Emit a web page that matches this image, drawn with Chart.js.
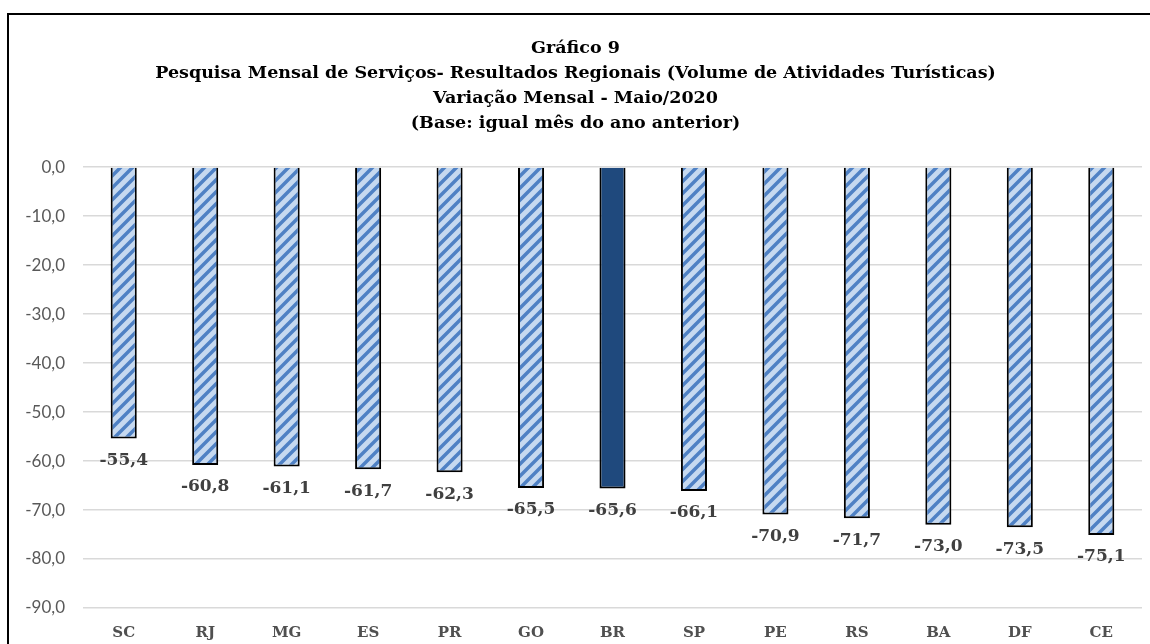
<!DOCTYPE html>
<html>
<head>
<meta charset="utf-8">
<script src="https://cdn.jsdelivr.net/npm/chart.js"></script>
<style>
  html, body { margin: 0; padding: 0; background: #fff; overflow: hidden; }
  #frame {
    position: absolute; left: 7px; top: 13px;
    width: 1160px; height: 650px;
    border: 2px solid #000;
  }
  #chart { display: block; }
</style>
</head>
<body>
<div id="frame"><canvas id="chart" width="1160" height="650"></canvas></div>
<script>
// data
const states = ['SC', 'RJ', 'MG', 'ES', 'PR', 'GO', 'BR', 'SP', 'PE', 'RS', 'BA', 'DF', 'CE'];
const variation = [-55.4, -60.8, -61.1, -61.7, -62.3, -65.5, -65.6, -66.1, -70.9, -71.7, -73.0, -73.5, -75.1];
const titleLines = [
    'Gráfico 9',
    'Pesquisa Mensal de Serviços- Resultados Regionais (Volume de Atividades Turísticas)',
    'Variação Mensal - Maio/2020',
    '(Base: igual mês do ano anterior)'
];

const fmt = v => v.toFixed(1).replace('.', ',');

// hatched fill for the states, solid for Brazil
function makeHatch() {
    const n = 12;
    const t = document.createElement('canvas');
    t.width = n; t.height = n;
    const c = t.getContext('2d');
    c.fillStyle = '#c6d9f0';
    c.fillRect(0, 0, n, n);
    c.strokeStyle = '#4f81c4';
    c.lineWidth = 3.5;
    c.beginPath();
    c.moveTo(-n / 2, n / 2); c.lineTo(n / 2, -n / 2);
    c.moveTo(0, n); c.lineTo(n, 0);
    c.moveTo(n / 2, n * 1.5); c.lineTo(n * 1.5, n / 2);
    c.stroke();
    return c.createPattern(t, 'repeat');
}
const hatch = makeHatch();
const fills = states.map(s => s === 'BR' ? '#1f497d' : hatch);

// value labels under each bar
const barLabels = {
    id: 'barLabels',
    afterDatasetsDraw(chart) {
        const ctx = chart.ctx;
        const meta = chart.getDatasetMeta(0);
        ctx.save();
        ctx.font = 'bold 17px "DejaVu Serif"';
        ctx.fillStyle = '#404040';
        ctx.textAlign = 'center';
        ctx.textBaseline = 'middle';
        meta.data.forEach((bar, i) => {
            ctx.fillText(fmt(variation[i]), bar.x, bar.y + 22);
        });
        ctx.restore();
    }
};

new Chart(document.getElementById('chart').getContext('2d'), {
    type: 'bar',
    data: {
        labels: states,
        datasets: [{
            data: variation,
            backgroundColor: fills,
            borderColor: '#000',
            borderWidth: 2,
            barPercentage: 0.32,
            categoryPercentage: 1
        }]
    },
    options: {
        responsive: false,
        animation: false,
        layout: { padding: { left: 0, right: 27, top: 0, bottom: 0 } },
        scales: {
            x: {
                grid: { display: false },
                border: { display: false },
                ticks: {
                    color: '#505050',
                    font: { family: 'DejaVu Serif', weight: 'bold', size: 15 },
                    padding: 8
                },
                afterFit(s) { s.height = 57; }
            },
            y: {
                min: -90,
                max: 0,
                grid: { color: '#d9d9d9', lineWidth: 1.5, drawTicks: false },
                border: { display: false },
                ticks: {
                    stepSize: 10,
                    color: '#595959',
                    font: { family: 'Lato', size: 17 },
                    padding: 18,
                    callback: v => fmt(v)
                },
                afterFit(s) { s.width = 74; }
            }
        },
        plugins: {
            legend: { display: false },
            tooltip: { enabled: false },
            title: {
                display: true,
                text: titleLines,
                color: '#000',
                font: { family: 'DejaVu Serif', weight: 'bold', size: 17.5, lineHeight: 1.43 },
                padding: { top: 21, bottom: 31 }
            }
        }
    },
    plugins: [barLabels]
});
</script>
</body>
</html>
